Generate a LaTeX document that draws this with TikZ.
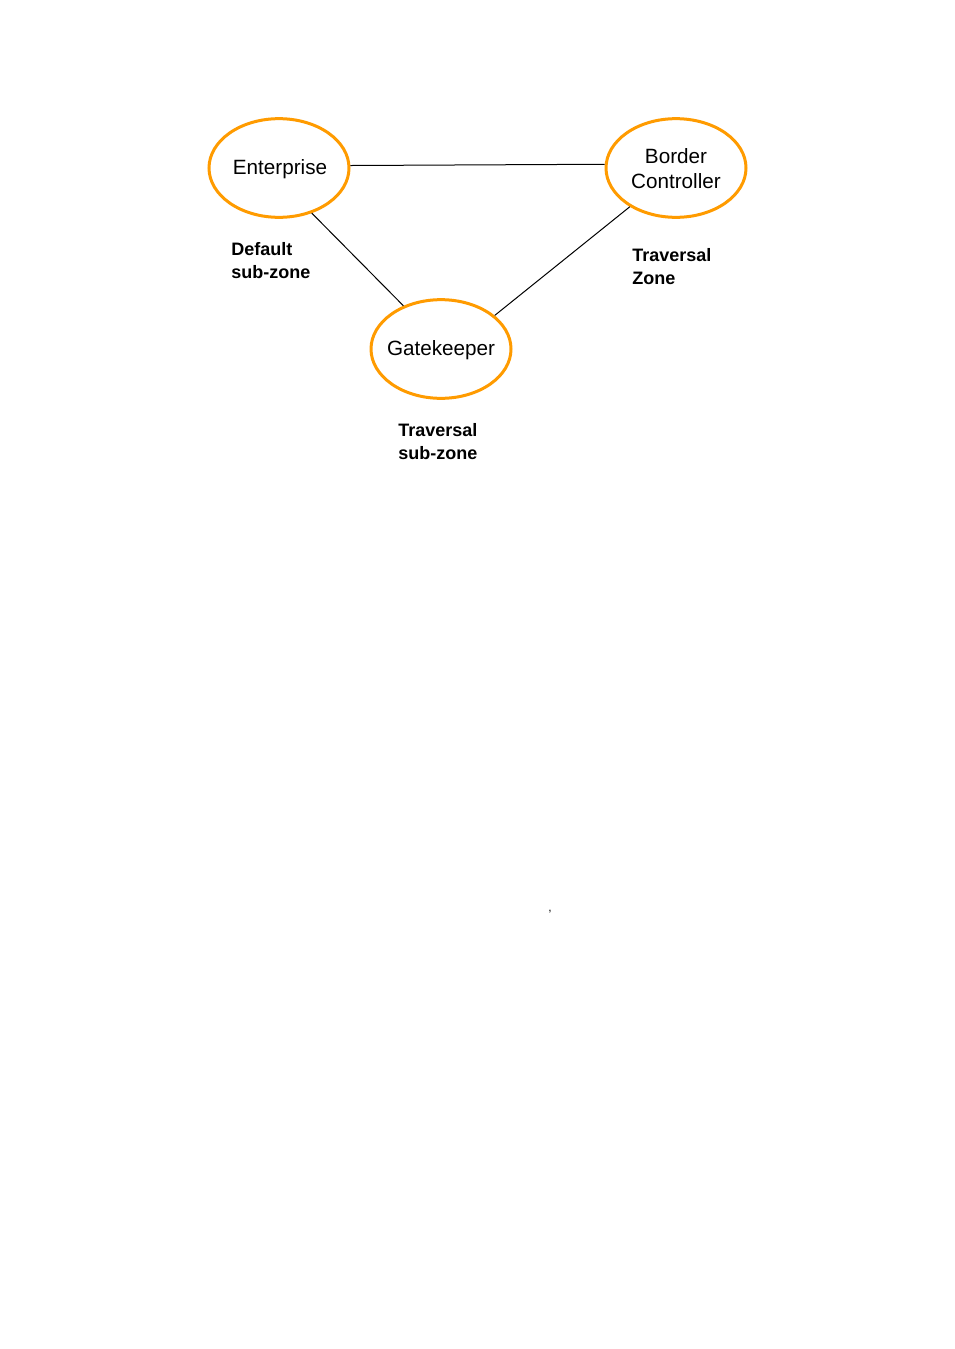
\documentclass[tikz,border=0pt]{standalone}
\usepackage{fontspec}
\setmainfont{Liberation Sans}
\usetikzlibrary{shapes.geometric}
\definecolor{zoneorange}{RGB}{255,155,0}
\begin{document}
\begin{tikzpicture}[x=0.75pt,y=-0.75pt,
  zone/.style={ellipse,draw=zoneorange,line width=2.25pt,minimum width=105pt,minimum height=74pt,inner sep=0pt},
  zonetext/.style={inner sep=0pt,align=center,font=\fontsize{15.5pt}{18.5pt}\selectfont},
  link/.style={draw=black,line width=0.75pt},
  zonelabel/.style={anchor=west,align=left,inner sep=0pt,font=\fontsize{13.5pt}{17.25pt}\selectfont\bfseries}]
\useasboundingbox (0,0) rectangle (954,1349);
\node[zone] (ent) at (279,168) {};
\node[zone] (bc) at (676,168) {};
\node[zone] (gk) at (441,349) {};
\node[zonetext] (entt) at (280,169.5) {Enterprise};
\node[zonetext] (bct) at (676,168.5) {Border\\Controller};
\node[zonetext] (gkt) at (441,350.5) {Gatekeeper};
\draw[link] (ent.2.5) -- (bc.177.5);
\draw[link] (ent.-54) -- (gk.131);
\draw[link] (bc.-140) -- (gk.32);
\node[zonelabel] (dl) at (231,260.5) {Default\\sub-zone};
\node[zonelabel] (tz) at (632,266.5) {Traversal\\Zone};
\node[zonelabel] (ts) at (398,441.5) {Traversal\\sub-zone};
\node[inner sep=0pt,font=\fontsize{9pt}{10pt}\selectfont] (cm) at (550,912) {,};
\end{tikzpicture}
\end{document}
